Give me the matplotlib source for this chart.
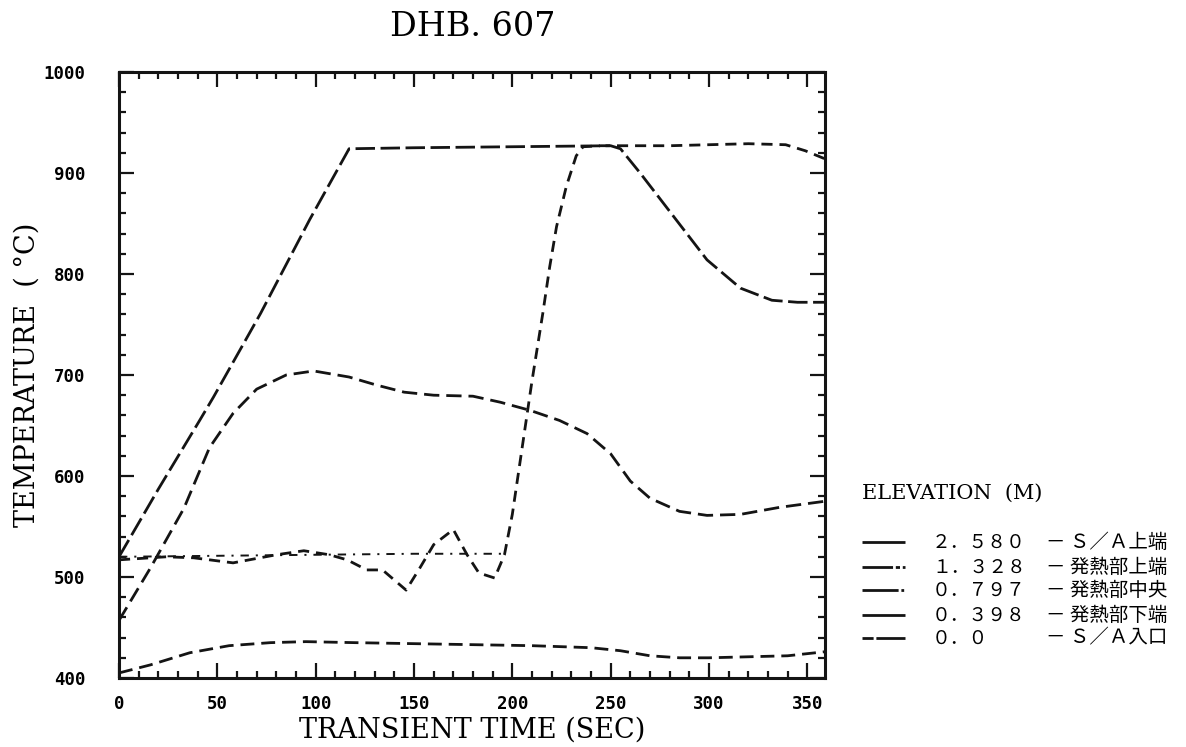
import matplotlib
matplotlib.use('Agg')
import matplotlib.pyplot as plt
from matplotlib.lines import Line2D
from matplotlib.ticker import MultipleLocator

plt.rcParams['lines.scale_dashes'] = False

# temperature histories (sec, deg C) at each elevation
t_2580 = [0, 50, 100, 150, 197]
T_2580 = [520, 521, 522, 523, 523]

t_1328 = [0, 24, 38, 58, 80, 94, 107, 116, 126, 134, 146, 153, 160, 170, 177,
          183, 191, 196, 200, 205, 210, 215.5, 219, 222.5, 227.5, 232.5, 236,
          245, 260, 280, 300, 320, 339, 349, 359]
T_1328 = [517, 520, 519, 514, 522, 526, 522, 517, 507, 507, 487, 509, 532, 547, 522,
          504, 499, 522, 562, 628, 694, 761, 807, 847, 887, 917, 926,
          927, 927, 927, 928, 929, 928, 922, 914]

t_0797 = [0, 20, 41, 48, 72, 97, 117, 150, 200, 250, 255, 265, 282, 299, 316, 332, 345, 359]
T_0797 = [520, 587, 655, 678, 761, 854, 924, 925, 926, 927, 924, 900, 857, 814, 786, 774, 772, 772]

t_0398 = [0, 16, 33, 46, 58, 70, 85, 99, 117, 131, 145, 160, 180, 194, 209, 224,
          238, 250, 260, 270, 285, 299, 316, 336, 359]
T_0398 = [457, 509, 568, 628, 662, 686, 700, 704, 698, 690, 683, 680, 679, 673, 665, 655,
          642, 622, 595, 578, 565, 561, 562, 569, 575]

t_0000 = [0, 16, 36, 56, 77, 95, 120, 150, 180, 210, 240, 255, 270, 285, 300, 320, 340, 359]
T_0000 = [405, 413, 425, 432, 435, 436, 435, 434, 433, 432, 430, 427, 422, 420, 420, 421, 422, 426]

elevations = ['２．５８０', '１．３２８', '０．７９７', '０．３９８', '０．０']
positions = ['－ Ｓ／Ａ上端', '－ 発熱部上端', '－ 発熱部中央', '－ 発熱部下端', '－ Ｓ／Ａ入口']

series = [(t_2580, T_2580), (t_1328, T_1328), (t_0797, T_0797),
          (t_0398, T_0398), (t_0000, T_0000)]
dash_styles = [(6, 5, 1.5, 5), (8, 5), (14, 4), (11, 5), (10, 5)]
key_dashes = [(40, 2), (22, 2, 3, 2), (26, 2, 2, 2), (40, 2), (8, 2, 30, 2)]
widths = [1.4, 2.0, 2.0, 2.0, 2.0]
ink = '#141414'
serif = 'DejaVu Serif'
cjk = ['Noto Sans CJK JP', 'DejaVu Sans']

W, H = 1186, 747
fig = plt.figure(figsize=(W / 100, H / 100), dpi=100)
ax = fig.add_axes([119 / W, 1 - 678 / H, (825 - 119) / W, (678 - 72) / H])

for (t, T), d, lw in zip(series, dash_styles, widths):
    ax.plot(t, T, color=ink, lw=lw, dashes=d)

ax.set_xlim(0, 359)
ax.set_ylim(400, 1000)
ax.xaxis.set_major_locator(MultipleLocator(50))
ax.xaxis.set_minor_locator(MultipleLocator(10))
ax.yaxis.set_major_locator(MultipleLocator(100))
ax.yaxis.set_minor_locator(MultipleLocator(20))
ax.tick_params(which='both', direction='in', top=True, right=True,
               width=1.6, color=ink)
ax.tick_params(which='major', length=11)
ax.tick_params(which='minor', length=5)
ax.tick_params(axis='y', pad=24)
ax.tick_params(axis='x', pad=12)
for lbl in ax.get_xticklabels() + ax.get_yticklabels():
    lbl.set_fontfamily('DejaVu Sans Mono')
    lbl.set_fontweight('bold')
    lbl.set_fontsize(12.5)
for sp in ax.spines.values():
    sp.set_linewidth(2.2)
    sp.set_color(ink)

ax.set_xlabel('TRANSIENT TIME (SEC)', family=serif, fontsize=19.5, labelpad=3)
ax.set_ylabel('TEMPERATURE  ( °C)', family=serif, fontsize=19.5, labelpad=2)

fig.text(473 / W, 1 - 27 / H, 'DHB. 607', family=serif, fontsize=24,
         ha='center', va='center')

# elevation key on the right
fig.text(862 / W, 1 - 493 / H, 'ELEVATION  (M)', family=serif, fontsize=15,
         ha='left', va='center')
row_y = [542, 567, 590, 615, 638]
for y, elev, pos, kd in zip(row_y, elevations, positions, key_dashes):
    fy = 1 - y / H
    fig.add_artist(Line2D([862 / W, 905 / W], [fy, fy], transform=fig.transFigure,
                          color=ink, lw=2.0, dashes=kd))
    fig.text(932 / W, fy, elev, family=cjk, fontsize=13.5, ha='left', va='center')
    fig.text(1046 / W, fy, pos, family=cjk, fontsize=14, ha='left', va='center')

fig.savefig('out.png', dpi=100, facecolor='white')
